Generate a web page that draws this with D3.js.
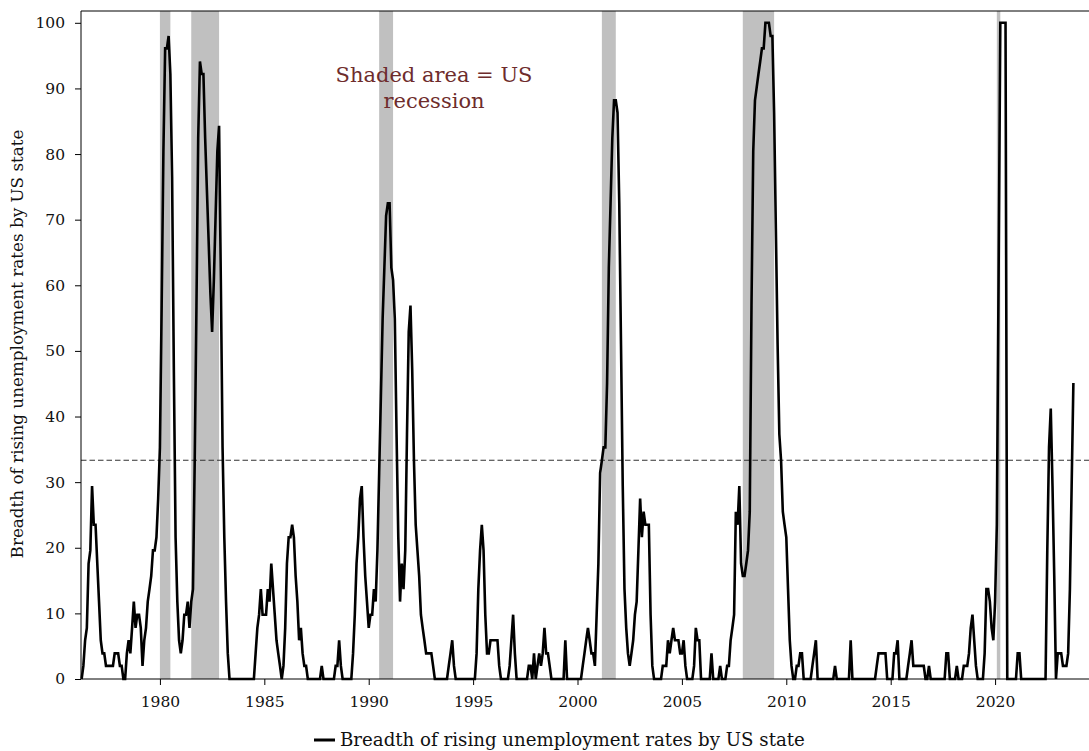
<!DOCTYPE html>
<html>
<head>
<meta charset="utf-8">
<script src="https://cdn.jsdelivr.net/npm/d3@7"></script>
<style>
  html, body { margin: 0; padding: 0; background: #fff; }
  svg { display: block; }
  text { font-family: "DejaVu Serif", Georgia, serif; }
</style>
</head>
<body>
<svg id="chart" width="1089" height="751"></svg>
<script>
// Share of US states (%) whose unemployment rate is rising, monthly.
// First observation: April 1976.
const breadth1970s = [
  0, 2, 5.9, 7.8, 17.6, 19.6, 29.4, 23.5, 23.5,
  17.6, 11.8, 5.9, 3.9, 3.9, 2, 2, 2, 2, 2, 3.9, 3.9,
  3.9, 2, 2, 0, 0, 3.9, 5.9, 3.9, 7.8, 11.8, 7.8, 9.8,
  9.8, 7.8, 2, 5.9, 7.8, 11.8, 13.7, 15.7, 19.6, 19.6, 21.6, 27.5
];
const breadth1980s = [
  35.3, 56.9, 80.4, 96.1, 96.1, 98, 92.2, 76.5, 47.1, 21.6, 11.8, 5.9,
  3.9, 5.9, 9.8, 9.8, 11.8, 7.8, 11.8, 13.7, 33.3, 56.9, 82.4, 94.1,
  92.2, 92.2, 82.4, 74.5, 66.7, 58.8, 52.9, 60.8, 70.6, 80.4, 84.3, 60.8,
  35.3, 21.6, 11.8, 3.9, 0, 0, 0, 0, 0, 0, 0, 0,
  0, 0, 0, 0, 0, 0, 0, 3.9, 7.8, 9.8, 13.7, 9.8,
  9.8, 9.8, 13.7, 11.8, 17.6, 13.7, 9.8, 5.9, 3.9, 2, 0, 2,
  7.8, 17.6, 21.6, 21.6, 23.5, 21.6, 15.7, 11.8, 5.9, 7.8, 3.9, 2,
  2, 0, 0, 0, 0, 0, 0, 0, 0, 2, 0, 0,
  0, 0, 0, 0, 0, 2, 2, 5.9, 2, 0, 0, 0,
  0, 0, 0, 3.9, 9.8, 17.6, 21.6, 27.5, 29.4, 21.6, 15.7, 11.8
];
const breadth1990s = [
  7.8, 9.8, 9.8, 13.7, 11.8, 19.6, 31.4, 43.1, 54.9, 62.7, 70.6, 72.5,
  72.5, 62.7, 60.8, 54.9, 37.3, 21.6, 11.8, 17.6, 13.7, 19.6, 37.3, 52.9,
  56.9, 47.1, 33.3, 23.5, 19.6, 15.7, 9.8, 7.8, 5.9, 3.9, 3.9, 3.9,
  3.9, 2, 0, 0, 0, 0, 0, 0, 0, 0, 2, 3.9,
  5.9, 2, 0, 0, 0, 0, 0, 0, 0, 0, 0, 0,
  0, 0, 3.9, 13.7, 19.6, 23.5, 19.6, 9.8, 3.9, 3.9, 5.9, 5.9,
  5.9, 5.9, 5.9, 2, 0, 0, 0, 0, 0, 2, 5.9, 9.8,
  3.9, 0, 0, 0, 0, 0, 0, 0, 2, 2, 0, 3.9,
  0, 2, 3.9, 2, 3.9, 7.8, 3.9, 3.9, 2, 0, 0, 0,
  0, 0, 0, 0, 0, 5.9, 0, 0, 0, 0, 0, 0
];
const breadth2000s = [
  0, 0, 0, 2, 3.9, 5.9, 7.8, 5.9, 3.9, 3.9, 2, 9.8,
  17.6, 31.4, 33.3, 35.3, 35.3, 45.1, 62.7, 72.5, 82.4, 88.2, 88.2, 86.3,
  72.5, 51, 29.4, 13.7, 7.8, 3.9, 2, 3.9, 5.9, 9.8, 11.8, 19.6,
  27.5, 21.6, 25.5, 23.5, 23.5, 23.5, 9.8, 2, 0, 0, 0, 0,
  0, 2, 2, 2, 5.9, 3.9, 5.9, 7.8, 5.9, 5.9, 5.9, 3.9,
  3.9, 5.9, 2, 0, 0, 0, 0, 2, 7.8, 5.9, 5.9, 0,
  0, 0, 0, 0, 0, 3.9, 0, 0, 0, 0, 2, 0,
  0, 0, 2, 2, 5.9, 7.8, 9.8, 25.5, 23.5, 29.4, 17.6, 15.7,
  15.7, 17.6, 19.6, 25.5, 56.9, 80.4, 88.2, 90.2, 92.2, 94.1, 96.1, 96.1,
  100, 100, 100, 98, 98, 86.3, 68.6, 51, 37.3, 33.3, 25.5, 23.5
];
const breadth2010s = [
  21.6, 13.7, 5.9, 2, 0, 0, 2, 2, 3.9, 3.9, 0, 0,
  0, 0, 0, 2, 3.9, 5.9, 0, 0, 0, 0, 0, 0,
  0, 0, 0, 0, 2, 0, 0, 0, 0, 0, 0, 0,
  0, 5.9, 0, 0, 0, 0, 0, 0, 0, 0, 0, 0,
  0, 0, 0, 0, 2, 3.9, 3.9, 3.9, 3.9, 3.9, 0, 0,
  0, 0, 3.9, 3.9, 5.9, 0, 0, 0, 0, 0, 2, 3.9,
  5.9, 2, 2, 2, 2, 2, 2, 2, 0, 0, 2, 0,
  0, 0, 0, 0, 0, 0, 0, 0, 3.9, 3.9, 0, 0,
  0, 0, 2, 0, 0, 0, 2, 2, 2, 3.9, 7.8, 9.8,
  5.9, 2, 0, 0, 0, 0, 3.9, 13.7, 13.7, 11.8, 7.8, 5.9
];
const breadth2020s = [
  11.8, 23.5, 60.8, 100, 100, 100, 100, 0, 0, 0, 0, 0,
  0, 3.9, 3.9, 0, 0, 0, 0, 0, 0, 0, 0, 0,
  0, 0, 0, 0, 0, 0, 19.6, 35.3, 41.2, 29.4, 15.7, 0,
  3.9, 3.9, 3.9, 2, 2, 2, 3.9, 13.7, 29.4, 45.1
];

// US recessions (first and last month)
const recessions = [
  ["1980-01", "1980-07"],
  ["1981-07", "1982-11"],
  ["1990-07", "1991-03"],
  ["2001-03", "2001-11"],
  ["2007-12", "2009-06"],
  ["2020-02", "2020-04"]
];

const thresholdValue = 100 / 3;
const yTickValues = [0, 10, 20, 30, 40, 50, 60, 70, 80, 90, 100];
const xTickYears = [1980, 1985, 1990, 1995, 2000, 2005, 2010, 2015, 2020];
const seriesLabel = "Breadth of rising unemployment rates by US state";
const noteLines = ["Shaded area = US", "recession"];

// ---- assemble monthly series (decimal years) ----
const blocks = [
  { start: 1976 + 3 / 12, values: breadth1970s },
  { start: 1980, values: breadth1980s },
  { start: 1990, values: breadth1990s },
  { start: 2000, values: breadth2000s },
  { start: 2010, values: breadth2010s },
  { start: 2020, values: breadth2020s }
];
const series = blocks.flatMap(b => b.values.map((v, i) => ({ t: b.start + i / 12, v })));
const toYear = s => { const [yr, m] = s.split("-").map(Number); return yr + (m - 1) / 12; };

// ---- layout ----
const W = 1089, H = 751;
const plotL = 81, plotR = 1088, plotT = 11, plotB = 679;

const svg = d3.select("#chart");

const x = d3.scaleLinear().domain([1976.22, 2024.45]).range([plotL, plotR]);
const y = d3.scaleLinear().domain([0, 101.8]).range([plotB, plotT]);

// recession shading
svg.append("g")
  .selectAll("rect")
  .data(recessions)
  .join("rect")
  .attr("x", d => x(toYear(d[0])))
  .attr("width", d => x(toYear(d[1])) - x(toYear(d[0])))
  .attr("y", plotT)
  .attr("height", plotB - plotT)
  .attr("fill", "#c0c0c0");

// threshold line at one third of states
svg.append("line")
  .attr("x1", plotL).attr("x2", W)
  .attr("y1", y(thresholdValue)).attr("y2", y(thresholdValue))
  .attr("stroke", "#333")
  .attr("stroke-width", 1.2)
  .attr("stroke-dasharray", "5.5,3");

// series line
const line = d3.line().x(d => x(d.t)).y(d => y(d.v));
svg.append("path")
  .datum(series)
  .attr("d", line)
  .attr("fill", "none")
  .attr("stroke", "#000")
  .attr("stroke-width", 2.6)
  .attr("stroke-linejoin", "miter")
  .attr("stroke-miterlimit", 3);

// frame
svg.append("path")
  .attr("d", `M${W},${plotT}H${plotL}V${plotB}H${W}`)
  .attr("fill", "none")
  .attr("stroke", "#000")
  .attr("stroke-width", 1);

// axes
const xAxis = svg.append("g")
  .attr("transform", `translate(0,${plotB})`)
  .call(d3.axisBottom(x).tickValues(xTickYears).tickFormat(d3.format("d"))
    .tickSize(6).tickPadding(11).tickSizeOuter(0));
const yAxis = svg.append("g")
  .attr("transform", `translate(${plotL},0)`)
  .call(d3.axisLeft(y).tickValues(yTickValues).tickSize(6).tickPadding(10).tickSizeOuter(0));

[xAxis, yAxis].forEach(g => {
  g.select(".domain").remove();
  g.selectAll(".tick line").attr("stroke", "#000");
  g.selectAll(".tick text")
    .attr("fill", "#111")
    .style("font-family", '"DejaVu Serif", Georgia, serif')
    .style("font-size", "15.5px");
});

// y-axis title
svg.append("text")
  .attr("transform", "translate(23,344) rotate(-90)")
  .attr("text-anchor", "middle")
  .attr("fill", "#111")
  .style("font-size", "16.8px")
  .text(seriesLabel);

// note
svg.append("g")
  .selectAll("text")
  .data(noteLines)
  .join("text")
  .attr("x", 434)
  .attr("y", (d, i) => 82 + i * 25.5)
  .attr("text-anchor", "middle")
  .attr("fill", "#6e2c2c")
  .style("font-size", "21px")
  .text(d => d);

// legend
const legend = svg.append("g");
legend.append("line")
  .attr("x1", 314).attr("x2", 335)
  .attr("y1", 740).attr("y2", 740)
  .attr("stroke", "#000")
  .attr("stroke-width", 3);
legend.append("text")
  .attr("x", 340).attr("y", 746)
  .attr("fill", "#111")
  .style("font-size", "18.2px")
  .text(seriesLabel);
</script>
</body>
</html>
